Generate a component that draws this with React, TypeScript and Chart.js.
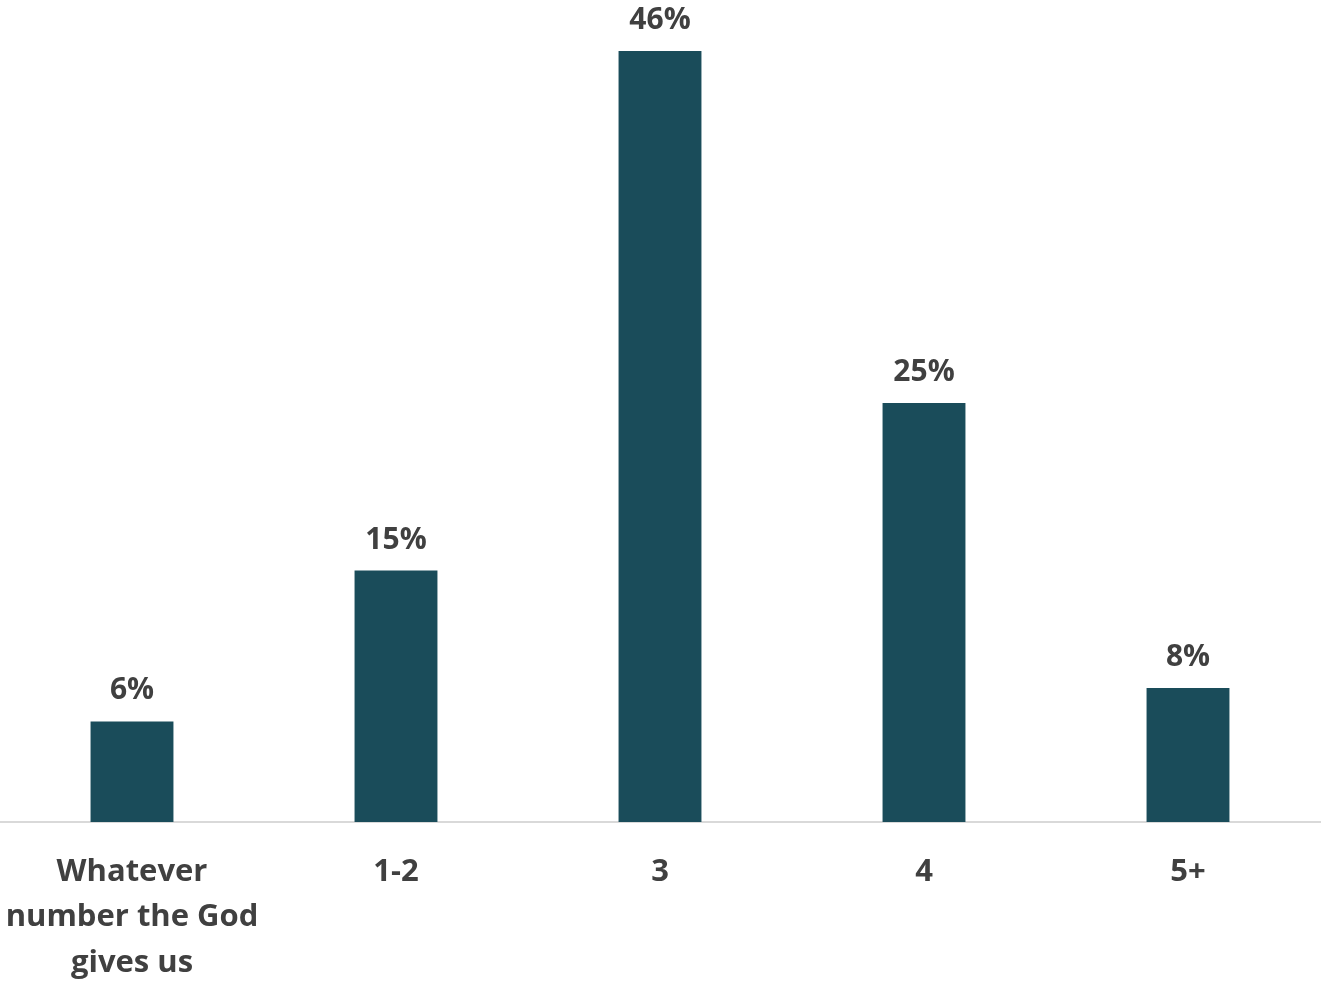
import React, { useEffect, useRef } from "react";
import { Chart, registerables } from "chart.js";

Chart.register(...registerables);

const categories: (string | string[])[] = [
  ["Whatever", "number the God", "gives us"],
  "1-2",
  "3",
  "4",
  "5+",
];
const values: number[] = [6, 15, 46, 25, 8];
const valueLabels: string[] = ["6%", "15%", "46%", "25%", "8%"];

const FONT = "'Open Sans', sans-serif";
const TEXT = "#404040";
const BAR = "#1A4C5A";

const labelPlugin = {
  id: "valueLabels",
  afterDatasetsDraw(chart: any) {
    const ctx = chart.ctx;
    const meta = chart.getDatasetMeta(0);
    ctx.save();
    ctx.font = `bold 30px ${FONT}`;
    ctx.fillStyle = TEXT;
    ctx.textAlign = "center";
    ctx.textBaseline = "alphabetic";
    meta.data.forEach((bar: any, i: number) => {
      ctx.fillText(valueLabels[i], bar.x, bar.y - 22);
    });
    ctx.restore();
  },
};

export default function App() {
  const ref = useRef<HTMLCanvasElement | null>(null);
  useEffect(() => {
    document.body.style.margin = "0";
    const chart = new Chart(ref.current!, {
      type: "bar",
      data: {
        labels: categories,
        datasets: [
          {
            data: values,
            backgroundColor: BAR,
            categoryPercentage: 1,
            barPercentage: 0.314,
          },
        ],
      },
      options: {
        animation: false,
        responsive: false,
        maintainAspectRatio: false,
        layout: { padding: { top: 51, left: 0, right: 2, bottom: 0 } },
        plugins: {
          legend: { display: false },
          tooltip: { enabled: false },
        },
        scales: {
          x: {
            grid: { display: false },
            border: { display: true, color: "#D9D9D9", width: 2 },
            ticks: {
              color: TEXT,
              font: { family: FONT, size: 31, weight: "bold", lineHeight: 1.47 },
              padding: 19,
              maxRotation: 0,
              autoSkip: false,
            },
            afterFit: (scale: any) => {
              scale.height = 159;
              scale.paddingLeft = 0;
              scale.paddingRight = 0;
            },
          },
          y: {
            display: false,
            min: 0,
            max: 46,
          },
        },
      },
      plugins: [labelPlugin],
    });
    return () => chart.destroy();
  }, []);
  return (
    <div style={{ width: 1322, height: 981 }}>
      <canvas ref={ref} width={1322} height={981} style={{ display: "block" }} />
    </div>
  );
}
